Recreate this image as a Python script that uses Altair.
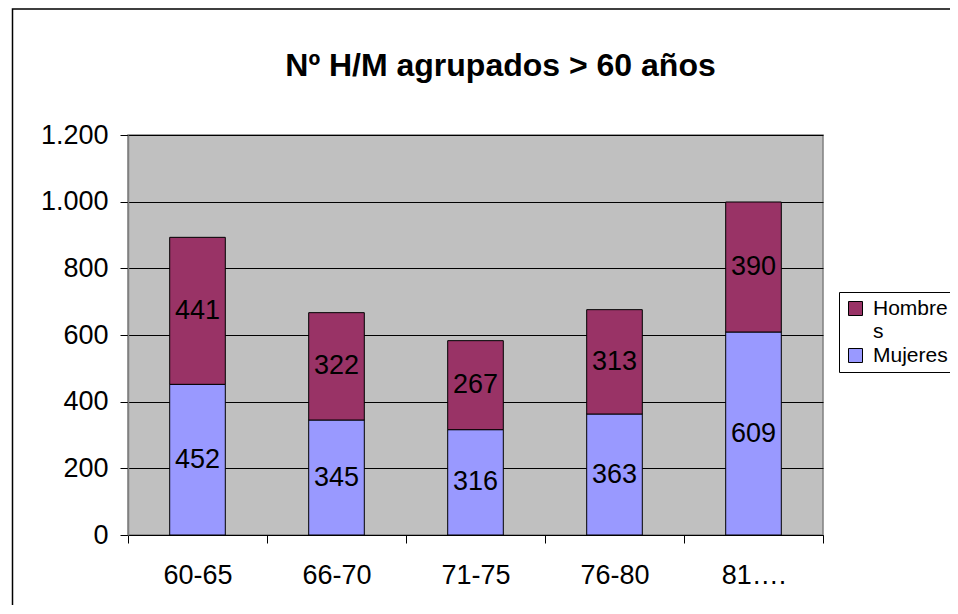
import altair as alt
import pandas as pd

categories = ["60-65", "66-70", "71-75", "76-80", "81…."]
mujeres = [452, 345, 316, 363, 609]
hombres = [441, 322, 267, 313, 390]
series = ["Hombres", "Mujeres"]
colors = ["#993366", "#9999FF"]
y_ticks = [0, 200, 400, 600, 800, 1000, 1200]

rows = []
for i, c in enumerate(categories):
    rows.append({"cat": c, "serie": "Mujeres", "value": mujeres[i], "ord": 0})
    rows.append({"cat": c, "serie": "Hombres", "value": hombres[i], "ord": 1})
df = pd.DataFrame(rows)

FONT = "Liberation Sans"

base = alt.Chart(df).transform_stack(
    stack="value", groupby=["cat"], as_=["y0", "y1"],
    sort=[alt.SortField("ord", order="ascending")]
).transform_calculate(mid="(datum.y0 + datum.y1) / 2")

x_enc = alt.X(
    "cat:N", sort=categories, title=None,
    scale=alt.Scale(paddingInner=0, paddingOuter=0),
    axis=alt.Axis(
        labelAngle=0, labelFont=FONT, labelFontSize=27, labelColor="black",
        tickBand="extent", tickSize=8, tickColor="black", tickWidth=1,
        domainColor="black", domainWidth=1, labelPadding=19, grid=False,
    ),
)

bars = base.mark_bar(width=alt.RelativeBandSize(0.4), stroke="black", strokeWidth=1).encode(
    x=x_enc,
    y=alt.Y(
        "y0:Q", title=None,
        scale=alt.Scale(domain=[0, 1200], nice=False, zero=True),
        axis=alt.Axis(
            values=y_ticks, labelFont=FONT, labelFontSize=27, labelColor="black",
            labelExpr="replace(format(datum.value, ','), ',', '.')",
            tickSize=8, tickColor="black", tickWidth=1, labelPadding=12,
            domainColor="#808080", domainWidth=1.5,
            grid=True, gridColor="black", gridWidth=1, gridOpacity=1,
        ),
    ),
    y2="y1:Q",
    color=alt.Color(
        "serie:N",
        scale=alt.Scale(domain=series, range=colors),
        legend=alt.Legend(
            title=None, orient="none", legendX=711, legendY=157,
            symbolType="square", symbolSize=196, symbolStrokeColor="black",
            symbolStrokeWidth=1, symbolOpacity=1,
            labelFont=FONT, labelFontSize=21, labelColor="black", labelLimit=400,
            labelOffset=7, rowPadding=2,
            labelExpr="datum.label == 'Hombres' ? ['Hombre', 's'] : datum.label",
            strokeColor="black", fillColor="white", padding=6,
        ),
    ),
)

labels = base.mark_text(font=FONT, fontSize=27, color="black").encode(
    x=alt.X("cat:N", sort=categories),
    y=alt.Y("mid:Q"),
    text=alt.Text("value:Q"),
)

border = alt.Chart(pd.DataFrame({"a": [0]})).mark_rect(
    fillOpacity=0, stroke="black", strokeWidth=1.5
).encode(
    x=alt.value(-115.5), x2=alt.value(2000),
    y=alt.value(-126), y2=alt.value(2000),
)

chart = alt.layer(bars, labels, border).properties(
    width=695, height=400,
    title=alt.TitleParams(
        "Nº H/M agrupados > 60 años", font=FONT, fontSize=32, fontWeight="bold",
        color="black", anchor="middle", frame="group", dx=25,
        baseline="alphabetic", offset=-100,
    ),
    autosize=alt.AutoSizeParams(type="none"),
    padding={"left": 120, "top": 127, "right": 127, "bottom": 70},
    background="white",
).configure_view(
    fill="#C0C0C0", stroke="#808080", strokeWidth=1.5
)

chart.save("out.html", embed_options={"renderer": "svg", "actions": False})
